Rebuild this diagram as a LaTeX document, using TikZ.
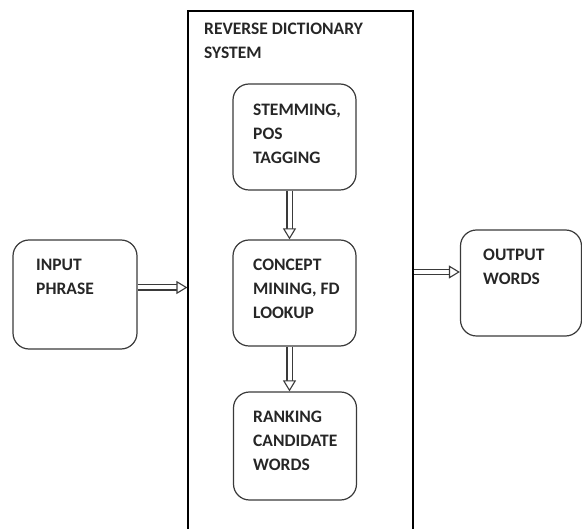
\documentclass[tikz,border=0pt]{standalone}
\usepackage{fontspec}
\setmainfont{Carlito}
\usetikzlibrary{arrows.meta,positioning,calc}
\definecolor{ink}{HTML}{3A3A3A}
\begin{document}
\begin{tikzpicture}[x=1pt, y=-1pt, font=\fontsize{17.5}{24}\selectfont\bfseries,
  blk/.style={draw=ink, line width=1.2pt, rounded corners=16pt, minimum width=123pt, minimum height=106pt, inner sep=0pt},
  sysbox/.style={draw=black, line width=1.2pt, minimum width=225pt, minimum height=560pt, inner sep=0pt},
  txt/.style={anchor=north west, align=left, inner sep=0pt, text=black!85},
  dbl/.style={draw=ink, double=white, double distance=4pt, line width=1.1pt, shorten >=9pt},
  tip/.style={draw=white, line width=0.5pt, -{Triangle[open, length=11pt, width=13pt, color=ink, fill=white, line width=1.1pt]}}]
\useasboundingbox (0,0) rectangle (582,529);
\clip (0,0) rectangle (582,529);
% outer system frame
\node[sysbox] (sys) at (300.5,291) {};
\node[txt] (systxt) at (204,23) {REVERSE DICTIONARY\\SYSTEM};
% blocks
\node[blk, minimum width=124pt, minimum height=109pt] (input) at (75,294.5) {};
\node[txt] (intxt) at (36,259) {INPUT\\PHRASE};
\node[blk] (stem) at (294.5,137) {};
\node[txt] (stemtxt) at (253,104) {STEMMING,\\POS\\TAGGING};
\node[blk] (concept) at (294.5,293) {};
\node[txt] (contxt) at (253,259) {CONCEPT\\MINING, FD\\LOOKUP};
\node[blk, minimum height=108pt] (rank) at (295,446) {};
\node[txt] (ranktxt) at (253,411) {RANKING\\CANDIDATE\\WORDS};
\node[blk, minimum width=121pt] (output) at (521,283) {};
\node[txt] (outtxt) at (483,249) {OUTPUT\\WORDS};
% arrows
\draw[dbl] ([yshift=7pt]input.east) -- ([yshift=7pt]input.east -| sys.west);
\draw[tip] ([yshift=7pt]input.east) -- ([yshift=7pt]input.east -| sys.west);
\draw[dbl] ([xshift=-5pt]stem.south) -- ([xshift=-5pt]stem.south |- concept.north);
\draw[tip] ([xshift=-5pt]stem.south) -- ([xshift=-5pt]stem.south |- concept.north);
\draw[dbl] ([xshift=-5pt]concept.south) -- ([xshift=-5pt]concept.south |- rank.north);
\draw[tip] ([xshift=-5pt]concept.south) -- ([xshift=-5pt]concept.south |- rank.north);
\draw[dbl] ([yshift=11pt]output.west -| sys.east) -- ([yshift=11pt]output.west);
\draw[tip] ([yshift=11pt]output.west -| sys.east) -- ([yshift=11pt]output.west);
\end{tikzpicture}
\end{document}
